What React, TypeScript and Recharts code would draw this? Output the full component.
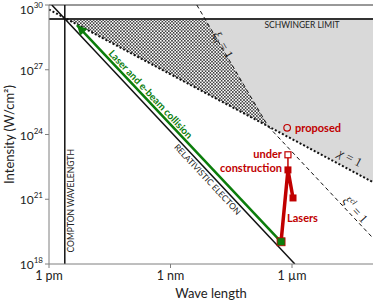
import {
  Area,
  ComposedChart,
  Line,
  ReferenceDot,
  ReferenceLine,
  Scatter,
  XAxis,
  YAxis,
} from "recharts";

document.body.style.margin = "0";

const FONT = "Lato, 'Open Sans', sans-serif";
const MATH = "'Liberation Serif', 'DejaVu Serif', serif";
const RED = "#c00000";
const GREEN = "#0b7d0b";

// x = log10(wavelength in m), y = log10(intensity in W/cm2)
const xTicks = [-12, -9, -6];
const xTickLabels = ["1 pm", "1 nm", "1 µm"];
const yTicks = [18, 21, 24, 27, 30];

const schwingerLimit = 29.35;
const comptonWavelength = -11.61;

const relativisticElectron = [
  { x: -11.93, y: 30 },
  { x: -5.93, y: 18 },
];
const collisionLine = [
  { x: -11.31, y: 29.07 },
  { x: -6.27, y: 19.03 },
];
const chiOne = [
  { x: -12, y: 29.79 },
  { x: -4, y: 21.79 },
];
const xiQOne = [
  { x: -8.35, y: 30 },
  { x: -6.59, y: 24.38 },
];
const xiClOne = [
  { x: -6.59, y: 24.38 },
  { x: -4, y: 19.2 },
];

const dottedRegion = [
  { x: -11.56, r: [29.35, 29.35] },
  { x: -8.15, r: [25.94, 29.35] },
  { x: -6.59, r: [24.38, 24.38] },
];
const greyRegion = [
  { x: -8.15, r: [29.35, 29.35] },
  { x: -6.59, r: [24.38, 29.35] },
  { x: -4, r: [21.79, 29.35] },
];

const laserPath = [
  { x: -6.27, y: 19.03 },
  { x: -6.1, y: 22.36 },
  { x: -5.975, y: 21.06 },
];
const constructionLink = [
  { x: -6.1, y: 22.36 },
  { x: -6.1, y: 23.06 },
];
const existingLasers = [
  { x: -6.1, y: 22.36 },
  { x: -5.975, y: 21.06 },
];
const underConstruction = [{ x: -6.1, y: 23.06 }];
const proposed = [{ x: -6.12, y: 24.31 }];
const collisionPoint = [{ x: -6.27, y: 19.03 }];
const arrowTip = [{ x: -11.31, y: 29.07 }];

type NoteOpts = {
  angle?: number;
  anchor?: "start" | "middle" | "end";
  size?: number;
  color?: string;
  weight?: string | number;
  family?: string;
};

// rotated text anchored at a ReferenceDot
const note =
  (body: any, o: NoteOpts = {}) =>
  (props: any) => {
    const vb = props.viewBox || {};
    const x = vb.x + (vb.width || 0) / 2;
    const y = vb.y + (vb.height || 0) / 2;
    return (
      <text
        x={x}
        y={y}
        textAnchor={o.anchor || "middle"}
        dominantBaseline="central"
        fontFamily={o.family || FONT}
        fontSize={o.size || 9}
        fontWeight={o.weight || "normal"}
        fill={o.color || "#222"}
        transform={o.angle ? `rotate(${o.angle} ${x} ${y})` : undefined}
      >
        {body}
      </text>
    );
  };

const Anchor = (x: number, y: number, content: any, key: string) => (
  <ReferenceDot key={key} x={x} y={y} r={0} fill="none" stroke="none" label={content} />
);

const YTick = (p: any) => (
  <text x={p.x} y={p.y + 5} textAnchor="end" fontFamily={FONT} fontSize={12} fill="#222">
    10
    <tspan dy={-6} fontSize={8}>
      {p.payload.value}
    </tspan>
  </text>
);

const XTick = (p: any) => (
  <text x={p.x} y={p.y + 10} textAnchor="middle" fontFamily={FONT} fontSize={12.5} fill="#222">
    {xTickLabels[xTicks.indexOf(p.payload.value)]}
  </text>
);

export default function App() {
  return (
    <ComposedChart width={374} height={303} margin={{ top: 5, right: 1, bottom: 0, left: 0 }}>
      <defs>
        <pattern id="stipple" width="3.2" height="3.2" patternUnits="userSpaceOnUse">
          <rect width="3.2" height="3.2" fill="#fff" />
          <circle cx="0.8" cy="0.8" r="0.8" fill="#000" />
          <circle cx="2.4" cy="2.4" r="0.8" fill="#000" />
        </pattern>
      </defs>
      <XAxis
        type="number"
        dataKey="x"
        domain={[-12, -4]}
        ticks={xTicks}
        allowDataOverflow
        height={39}
        stroke="#7f7f7f"
        tickSize={4}
        tickMargin={2}
        tick={XTick}
        label={{
          content: (p: any) => (
            <text x={p.viewBox.x + p.viewBox.width / 2} y={298} textAnchor="middle" fontFamily={FONT} fontSize={13} fill="#222">
              Wave length
            </text>
          ),
        }}
      />
      <YAxis
        type="number"
        domain={[18, 30]}
        ticks={yTicks}
        allowDataOverflow
        width={49}
        stroke="#7f7f7f"
        tickSize={4}
        tickMargin={2}
        tick={YTick}
        label={{
          content: (p: any) => {
            const cy = p.viewBox.y + p.viewBox.height / 2;
            return (
              <text x={14} y={cy} textAnchor="middle" fontFamily={FONT} fontSize={13} fill="#222" transform={`rotate(-90 14 ${cy})`}>
                Intensity (W/cm²)
              </text>
            );
          },
        }}
      />

      <Area data={greyRegion} dataKey="r" type="linear" fill="#d9d9d9" fillOpacity={1} stroke="none" isAnimationActive={false} activeDot={false} />
      <Area data={dottedRegion} dataKey="r" type="linear" fill="url(#stipple)" fillOpacity={1} stroke="none" isAnimationActive={false} activeDot={false} />

      <ReferenceLine y={30} stroke="#333" strokeWidth={1} />
      <ReferenceLine y={schwingerLimit} stroke="#333" strokeWidth={2} />
      <ReferenceLine x={comptonWavelength} stroke="#111" strokeWidth={1.5} />

      <Line data={chiOne} dataKey="y" type="linear" stroke="#111" strokeWidth={2} strokeDasharray="2 2" dot={false} activeDot={false} isAnimationActive={false} />
      <Line data={xiQOne} dataKey="y" type="linear" stroke="#111" strokeWidth={1} strokeDasharray="4 3" dot={false} activeDot={false} isAnimationActive={false} />
      <Line data={xiClOne} dataKey="y" type="linear" stroke="#111" strokeWidth={1} strokeDasharray="4 3" dot={false} activeDot={false} isAnimationActive={false} />
      <Line data={relativisticElectron} dataKey="y" type="linear" stroke="#111" strokeWidth={1.5} dot={false} activeDot={false} isAnimationActive={false} />
      <Line data={collisionLine} dataKey="y" type="linear" stroke={GREEN} strokeWidth={2.5} dot={false} activeDot={false} isAnimationActive={false} />
      <Line data={laserPath} dataKey="y" type="linear" stroke={RED} strokeWidth={3.5} dot={false} activeDot={false} isAnimationActive={false} />
      <Line data={constructionLink} dataKey="y" type="linear" stroke={RED} strokeWidth={1.5} dot={false} activeDot={false} isAnimationActive={false} />

      <Scatter
        data={arrowTip}
        dataKey="y"
        isAnimationActive={false}
        shape={(p: any) => (
          <path d="M0,0 L-10,-5 L-10,5 Z" fill={GREEN} transform={`translate(${p.cx},${p.cy}) rotate(-133.2)`} />
        )}
      />
      <Scatter
        data={existingLasers}
        dataKey="y"
        isAnimationActive={false}
        shape={(p: any) => <rect x={p.cx - 3.5} y={p.cy - 3.5} width={7} height={7} fill={RED} />}
      />
      <Scatter
        data={underConstruction}
        dataKey="y"
        isAnimationActive={false}
        shape={(p: any) => <rect x={p.cx - 3} y={p.cy - 3} width={6} height={6} fill="#fff" stroke={RED} strokeWidth={1.2} />}
      />
      <Scatter
        data={proposed}
        dataKey="y"
        isAnimationActive={false}
        shape={(p: any) => <circle cx={p.cx} cy={p.cy} r={3.3} fill="none" stroke={RED} strokeWidth={1.2} />}
      />
      <Scatter
        data={collisionPoint}
        dataKey="y"
        isAnimationActive={false}
        shape={(p: any) => <rect x={p.cx - 4} y={p.cy - 4} width={8} height={8} fill={GREEN} stroke={RED} strokeWidth={0.8} />}
      />

      {Anchor(-5.753, 29.074, note("SCHWINGER LIMIT", { size: 8.5 }), "schw")}
      {Anchor(-11.457, 20.93, note("COMPTON WAVELENGTH", { size: 8.5, angle: -90 }), "compton")}
      {Anchor(-8.086, 21.92, note("RELATIVISTIC ELECTON", { size: 8.5, angle: 47 }), "rel")}
      {Anchor(-9.481, 25.88, note("Laser and e-beam collision", { size: 10, angle: 46.8, weight: "bold", color: GREEN }), "coll")}
      {Anchor(
        -7.704,
        28.148,
        note(
          <>
            <tspan fontStyle="italic">ξ</tspan>
            <tspan fontSize={8} dy={2} fontStyle="italic">q</tspan>
            <tspan dy={-2}> = 1</tspan>
          </>,
          { size: 12.5, angle: 60, family: MATH }
        ),
        "xiq"
      )}
      {Anchor(
        -4.568,
        22.92,
        note(
          <>
            <tspan fontStyle="italic">χ</tspan> = 1
          </>,
          { size: 12.5, angle: 28, family: MATH }
        ),
        "chi"
      )}
      {Anchor(
        -4.444,
        20.51,
        note(
          <>
            <tspan fontStyle="italic">ξ</tspan>
            <tspan fontSize={8} dy={-5} fontStyle="italic">cl</tspan>
            <tspan dy={5}> = 1</tspan>
          </>,
          { size: 12.5, angle: 47, family: MATH }
        ),
        "xicl"
      )}
      {Anchor(-5.926, 24.31, note("proposed", { size: 11, anchor: "start", weight: "bold", color: RED }), "prop")}
      {Anchor(-6.247, 23.1, note("under", { size: 11, anchor: "end", weight: "bold", color: RED }), "under")}
      {Anchor(-6.247, 22.45, note("construction", { size: 11, anchor: "end", weight: "bold", color: RED }), "constr")}
      {Anchor(-6.123, 20.14, note("Lasers", { size: 11, anchor: "start", weight: "bold", color: RED }), "lasers")}
    </ComposedChart>
  );
}
